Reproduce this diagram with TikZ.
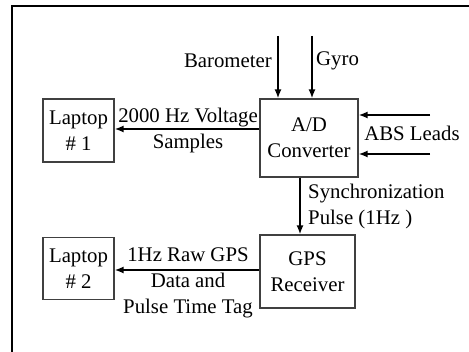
\documentclass[tikz,border=0pt]{standalone}
\usepackage{fontspec}
\setmainfont{Liberation Serif}
\usetikzlibrary{positioning, arrows.meta, calc}
\tikzset{
    blk/.style={draw=black!75, line width=1.1pt, align=center, inner sep=0pt},
    lbl/.style={align=center, inner sep=0pt},
    flow/.style={-{Latex[length=9pt, width=7pt]}, line width=2pt}
}

\begin{document}
\begin{tikzpicture}[x=1pt, y=-1pt, font=\fontsize{20.8}{26}\selectfont]
        \useasboundingbox (0,0) rectangle (469,352);
        % ----------------------------------------------------
        % Frame (top and left edges only)
        % ----------------------------------------------------
        \coordinate (fTL) at (12,6);
        \coordinate (fTR) at (469,6);
        \coordinate (fBL) at (12,352);
        \draw[line width=2pt] (fTR) -- (fTL) -- (fBL);

        % ----------------------------------------------------
        % Blocks
        % ----------------------------------------------------
        \node[blk, minimum width=71pt, minimum height=63pt] (lap1) at (78.5,130.5) {Laptop\\\# 1};
        \node[blk, minimum width=98pt, minimum height=78pt] (adc) at (309,138) {A/D\\Converter};
        \node[blk, minimum width=95pt, minimum height=73pt] (gps) at (307.5,271.5) {GPS\\Receiver};
        \node[blk, minimum width=71pt, minimum height=62pt] (lap2) at (78.5,268.5) {Laptop\\\# 2};

        % ----------------------------------------------------
        % Inputs to A/D
        % ----------------------------------------------------
        \coordinate (baro) at (278,36);
        \coordinate (gyro) at (312,36);
        \draw[flow] (baro) -- (baro |- adc.north);
        \draw[flow] (gyro) -- (gyro |- adc.north);
        \node[lbl, anchor=east] (baroL) at (272,61) {Barometer};
        \node[lbl, anchor=west] (gyroL) at (316,61) {Gyro};

        \coordinate (abs1) at (430,115);
        \coordinate (abs2) at (430,154);
        \draw[flow] (abs1) -- (abs1 -| adc.east);
        \draw[flow] (abs2) -- (abs2 -| adc.east);
        \node[lbl] (absL) at (412,133) {ABS Leads};

        % ----------------------------------------------------
        % Outputs
        % ----------------------------------------------------
        \draw[flow] (adc.west |- 0,129) -- (lap1.east |- 0,129);
        \node[lbl] (voltL) at (188,131) {2000 Hz Voltage\\Samples};

        \draw[flow] ([xshift=-9pt]adc.south) -- ([xshift=-9pt]adc.south |- gps.north);
        \node[lbl, align=left, anchor=west] (syncL) at (308,207) {Synchronization\\Pulse (1Hz )};

        \draw[flow] (gps.west |- 0,270) -- (lap2.east |- 0,270);
        \node[lbl] (gpsL) at (188,283) {1Hz Raw GPS\\Data and\\Pulse Time Tag};
    \end{tikzpicture}
\end{document}
